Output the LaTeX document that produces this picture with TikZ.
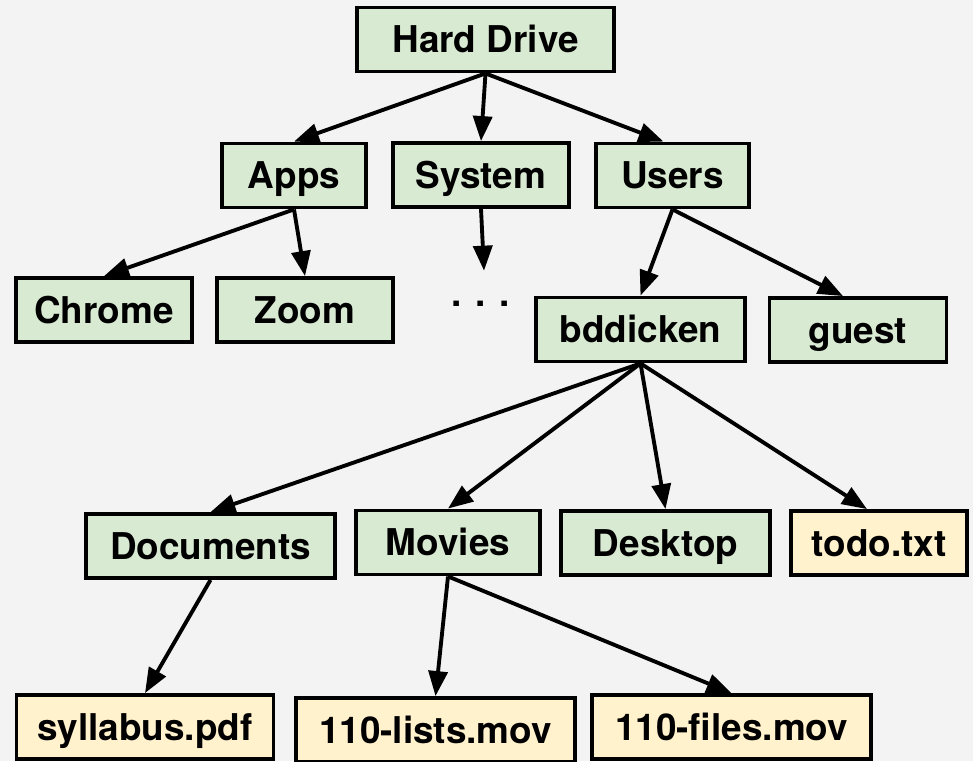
\documentclass[tikz,border=0pt]{standalone}
\usepackage{fontspec}
\setmainfont{TeX Gyre Heros}
\usetikzlibrary{arrows.meta}
\definecolor{dirgreen}{HTML}{D9EAD3}
\definecolor{fileyellow}{HTML}{FFF2CC}
\definecolor{paper}{HTML}{F3F3F3}

\tikzset{
  item/.style={draw=black, line width=2.2pt, minimum height=1.28cm, inner sep=0pt,
    text height=15.1pt, text depth=0pt,
    font=\fontsize{21}{24}\selectfont\bfseries},
  folder/.style={item, fill=dirgreen},
  file/.style={item, fill=fileyellow},
}

\begin{document}
\begin{tikzpicture}[x=0.02cm, y=-0.02cm, line width=2.2pt,
    >={Triangle[length=0.5cm, width=0.38cm]}]
		\useasboundingbox[fill=paper] (0,0) rectangle (973,761);
		\clip (0,0) rectangle (973,761);
		
		\node[folder, minimum width=5.14cm] (hd)      at (485.5,39.5) {Hard Drive};
		\node[folder, minimum width=2.88cm] (apps)    at (294,175.5)  {Apps};
		\node[folder, minimum width=3.52cm] (system)  at (481,175)    {System};
		\node[folder, minimum width=3.06cm] (users)   at (672.5,175.5) {Users};
		\node[folder, minimum width=3.52cm] (chrome)  at (104,310)    {Chrome};
		\node[folder, minimum width=3.52cm] (zoom)    at (305,310)    {Zoom};
		\node[font=\fontsize{21}{24}\selectfont\bfseries, anchor=base, inner sep=0pt]
		  (more) at (481,306) {. . .};
		\node[folder, minimum width=4.18cm] (bdd)     at (640.5,329.5) {bddicken};
		\node[folder, minimum width=3.54cm] (guest)   at (858,330)    {guest};
		\node[folder, minimum width=4.98cm] (docs)    at (210.5,546)  {Documents};
		\node[folder, minimum width=3.68cm] (movies)  at (448,542.5)  {Movies};
		\node[folder, minimum width=4.18cm] (desktop) at (665.5,543)  {Desktop};
		\node[file,   minimum width=3.52cm] (todo)    at (879,543)    {todo.txt};
		\node[file,   minimum width=5.14cm] (syllabus) at (145,727)   {syllabus.pdf};
		\node[file,   minimum width=5.58cm] (lists)   at (435.5,730)  {110-lists.mov};
		\node[file,   minimum width=5.58cm] (files)   at (731.5,727)  {110-files.mov};
		
		\path[->]
		(hd.south) edge (apps.north)
		(hd.south) edge (system.north)
		(hd.south) edge ([xshift=-0.18cm]users.north)
		
		(apps.south) edge (chrome.north)
		(apps.south) edge (zoom.north)
		(system.south) edge ([xshift=0.06cm, yshift=0.56cm]more.north)
		
		(users.south) edge (bdd.north)
		(users.south) edge ([xshift=-0.3cm]guest.north)
		
		(bdd.south) edge (docs.north)
		(bdd.south) edge (movies.north)
		(bdd.south) edge (desktop.north)
		(bdd.south) edge ([xshift=-0.24cm]todo.north)
		
		(docs.south) edge (syllabus.north)
		(movies.south) edge (lists.north)
		(movies.south) edge (files.north)
		;
\end{tikzpicture}
\end{document}
